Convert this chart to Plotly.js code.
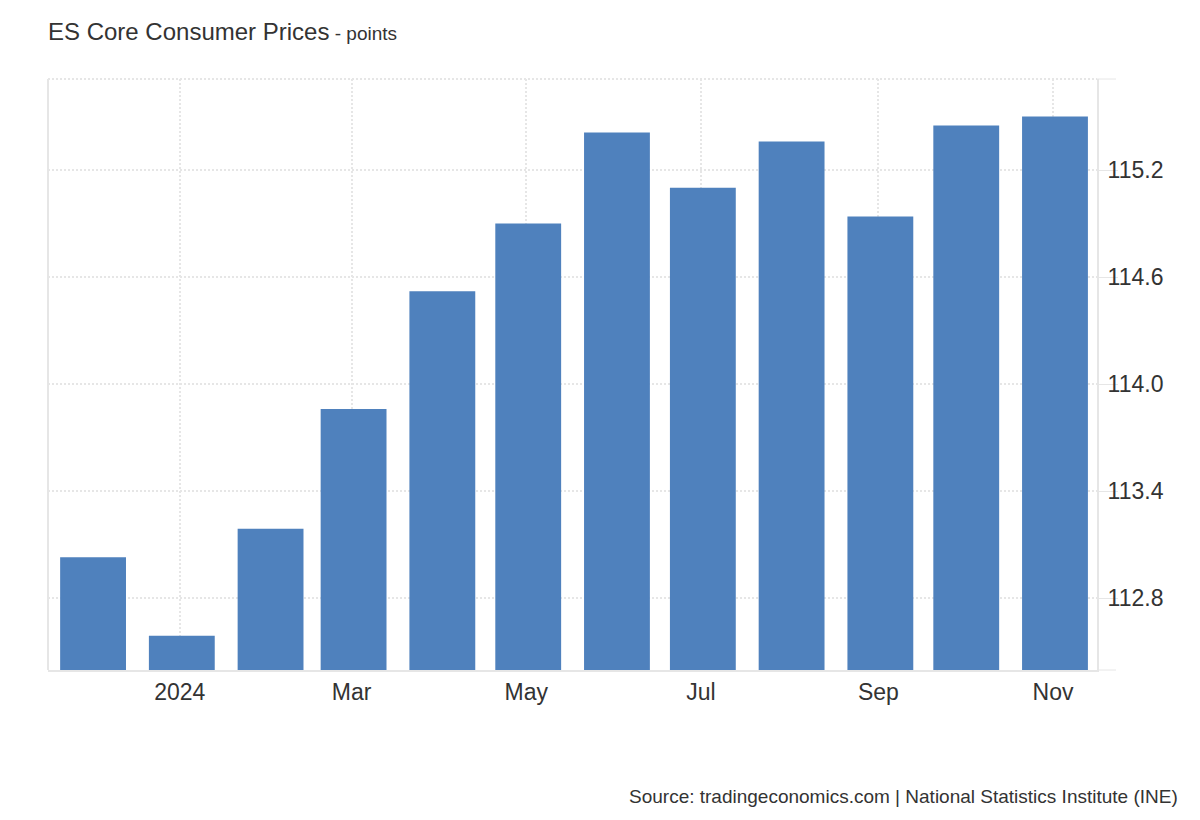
<!DOCTYPE html>
<html>
<head>
<meta charset="utf-8">
<script src="https://cdn.plot.ly/plotly-3.0.1.min.js"></script>
<style>
  html, body { margin: 0; padding: 0; background: #fff; }
  #chart { width: 1200px; height: 820px; }
</style>
</head>
<body>
<div id="chart"></div>
<script>
// monthly readings, Dec 2023 .. Nov 2024
const months = ['2023-12-01', '2024-01-01', '2024-02-01', '2024-03-01', '2024-04-01', '2024-05-01',
                '2024-06-01', '2024-07-01', '2024-08-01', '2024-09-01', '2024-10-01', '2024-11-01'];
const values = [113.03, 112.59, 113.19, 113.86, 114.52, 114.90,
                115.41, 115.10, 115.36, 114.94, 115.45, 115.50];

const xTickVals = ['2024-01-01', '2024-03-01', '2024-05-01', '2024-07-01', '2024-09-01', '2024-11-01'];
const xTickText = ['2024', 'Mar', 'May', 'Jul', 'Sep', 'Nov'];
const yTickVals = [112.8, 113.4, 114.0, 114.6, 115.2];
const yTickText = ['112.8', '113.4', '114.0', '114.6', '115.2'];

const DAY = 86400000;
const font = 'Liberation Sans, Arial, sans-serif';
const lineGrey = '#e6e6e6';
const plotW = 1049;

const trace = {
  type: 'bar',
  x: months,
  y: values,
  width: 23 * DAY,
  offset: -10.8 * DAY, // bars sit a touch right of the month gridline
  marker: { color: '#4f81bd', line: { width: 0 } },
  hoverinfo: 'x+y',
};

const layout = {
  width: 1200,
  height: 820,
  margin: { l: 48, r: 103, t: 79, b: 150 },
  paper_bgcolor: '#ffffff',
  plot_bgcolor: '#ffffff',
  showlegend: false,
  font: { family: font, color: '#333333' },
  title: {
    text: 'ES Core Consumer Prices<span style="font-size:19px"> - points</span>',
    font: { family: font, size: 24, color: '#333333' },
    xref: 'container', x: 0.04, xanchor: 'left',
    yref: 'container', y: 1 - 32 / 820, yanchor: 'middle',
  },
  xaxis: {
    type: 'date',
    range: ['2023-11-15 23:00', '2024-11-16 09:00'],
    tickmode: 'array',
    tickvals: xTickVals,
    ticktext: xTickText,
    ticks: '',
    showgrid: true,
    gridcolor: lineGrey,
    gridwidth: 2,
    griddash: '2px,2px',
    zeroline: false,
    showline: true,
    linecolor: lineGrey,
    linewidth: 2,
    tickfont: { family: font, size: 23, color: '#333333' },
    fixedrange: true,
  },
  yaxis: {
    side: 'right',
    range: [112.398, 115.71],
    tickmode: 'array',
    tickvals: yTickVals,
    ticktext: yTickText,
    ticks: 'outside',
    ticklen: 19,
    tickwidth: 1,
    tickcolor: lineGrey,
    ticklabelstandoff: -15,
    showgrid: true,
    gridcolor: lineGrey,
    gridwidth: 2,
    griddash: '2px,2px',
    zeroline: false,
    showline: true,
    linecolor: lineGrey,
    linewidth: 2,
    tickfont: { family: font, size: 23, color: '#333333' },
    fixedrange: true,
  },
  shapes: [
    // left border
    { type: 'line', xref: 'paper', yref: 'paper', x0: 0, x1: 0, y0: 0, y1: 1,
      line: { color: lineGrey, width: 2 } },
    // dotted top edge
    { type: 'line', xref: 'paper', yref: 'paper', x0: 0, x1: 1, y0: 1, y1: 1,
      line: { color: lineGrey, width: 2, dash: '2px,2px' } },
    // end ticks on the value axis
    { type: 'line', xref: 'paper', yref: 'paper', x0: 1, x1: 1 + 19 / plotW, y0: 1, y1: 1,
      line: { color: lineGrey, width: 1 } },
    { type: 'line', xref: 'paper', yref: 'paper', x0: 1, x1: 1 + 19 / plotW, y0: 0, y1: 0,
      line: { color: lineGrey, width: 1 } },
  ],
  annotations: [
    {
      text: 'Source: tradingeconomics.com | National Statistics Institute (INE)',
      xref: 'paper', yref: 'paper',
      x: (1180 - 48) / plotW, xanchor: 'right',
      y: -(796 - 670) / 591, yanchor: 'middle',
      showarrow: false,
      font: { family: font, size: 19, color: '#333333' },
    },
  ],
};

Plotly.newPlot('chart', [trace], layout, { displayModeBar: false, staticPlot: true });
</script>
</body>
</html>
